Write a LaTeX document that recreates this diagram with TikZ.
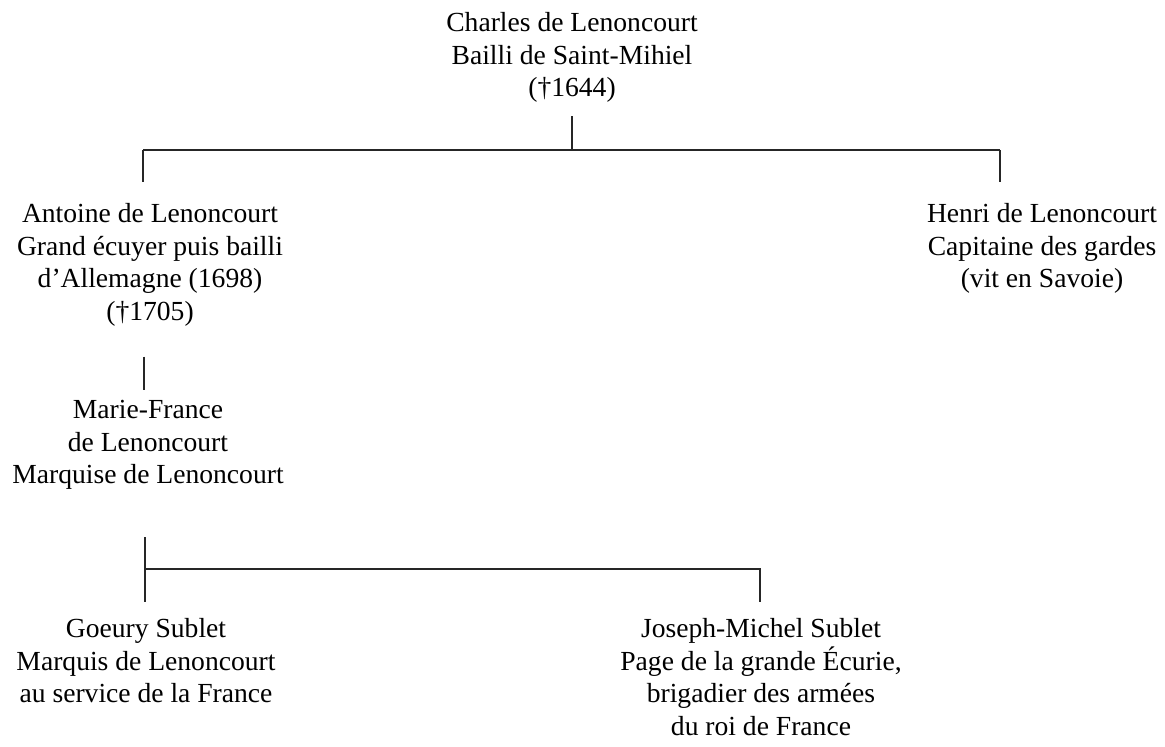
\documentclass[tikz,border=0pt]{standalone}
\usepackage{fontspec}
\setmainfont{Liberation Serif}
\tikzset{
  person/.style={anchor=north, align=center, inner sep=0pt,
    font=\fontsize{13.8pt}{16.3pt}\selectfont},
  tie/.style={draw=black!85, line width=0.8pt}
}
\begin{document}
\begin{tikzpicture}[x=0.5pt, y=-0.5pt]
    \useasboundingbox (0,0) rectangle (1165,746);
    % generation 1
    \node[person] (charles) at (572,12) {Charles de Lenoncourt\\Bailli de Saint-Mihiel\\(†1644)};
    % generation 2
    \node[person] (antoine) at (150,203) {Antoine de Lenoncourt\\Grand écuyer puis bailli\\d’Allemagne (1698)\\(†1705)};
    \node[person] (henri) at (1042,203) {Henri de Lenoncourt\\Capitaine des gardes\\(vit en Savoie)};
    % generation 3
    \node[person] (marie) at (148,400) {Marie-France\\de Lenoncourt\\Marquise de Lenoncourt};
    % generation 4
    \node[person] (goeury) at (146,618) {Goeury Sublet\\Marquis de Lenoncourt\\au service de la France};
    \node[person] (joseph) at (761,618) {Joseph-Michel Sublet\\Page de la grande Écurie,\\brigadier des armées\\du roi de France};
    % bars
    \coordinate (bar1) at (572,150);
    \coordinate (bar1l) at (143,150);
    \coordinate (bar1r) at (1000,150);
    \coordinate (bar2) at (145,569);
    \coordinate (bar2r) at (760,569);
    \draw[tie] (charles.south) ++(0,13) -- (bar1);
    \draw[tie] (bar1l) -- (bar1r);
    \draw[tie] (bar1l) -- ++(0,32);
    \draw[tie] (bar1r) -- ++(0,32);
    \draw[tie] (antoine.south) ++(-6,30) -- ++(0,33);
    \draw[tie] (marie.south) ++(-3,47) -- (bar2) -- ++(0,33);
    \draw[tie] (bar2) -- (bar2r) -- ++(0,33);
\end{tikzpicture}
\end{document}
